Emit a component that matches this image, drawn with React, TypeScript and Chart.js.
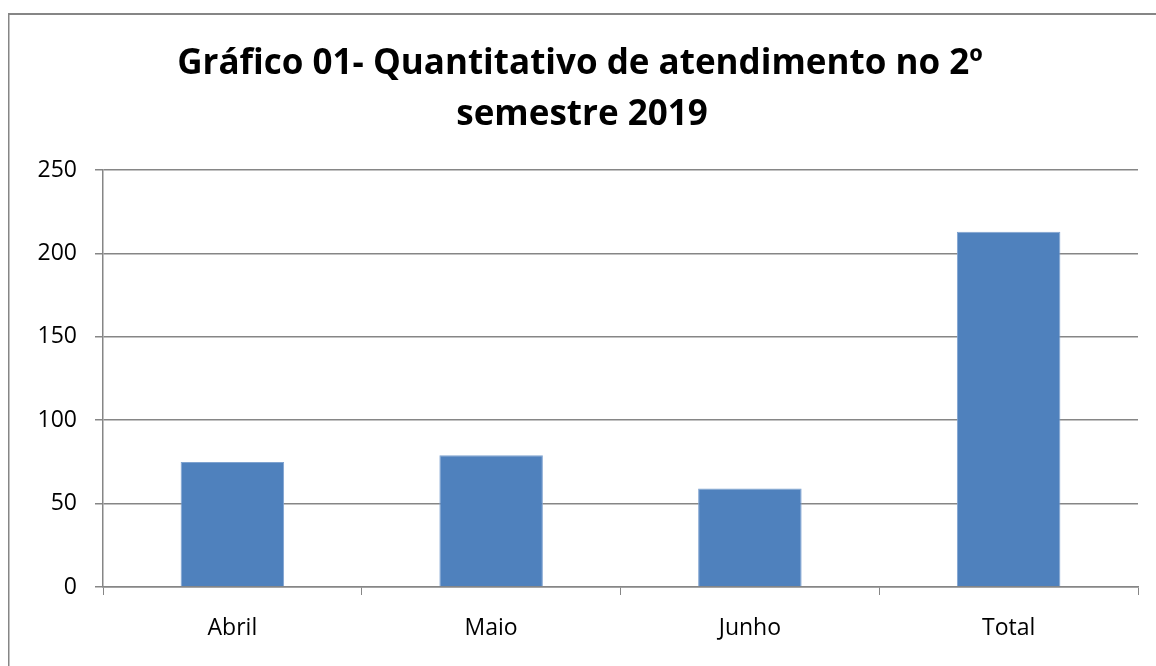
import React, { useEffect, useRef } from "react";
import { Chart, registerables } from "chart.js";

Chart.register(...registerables);

const categories = ["Abril", "Maio", "Junho", "Total"];
const values = [75, 79, 59, 213];
const titleLines = ["Gráfico 01- Quantitativo de atendimento no 2º", "semestre 2019"];
const yTicks = [0, 50, 100, 150, 200, 250];

const GRID = "#868686";
const FONT = "'Open Sans', 'Noto Sans', sans-serif";

export default function App() {
  const ref = useRef<HTMLCanvasElement | null>(null);
  useEffect(() => {
    if (!ref.current) return;
    const frame = {
      id: "frame",
      beforeDraw(chart: any) {
        const ctx = chart.ctx;
        ctx.save();
        ctx.fillStyle = "#ffffff";
        ctx.fillRect(0, 0, chart.width, chart.height);
        ctx.fillStyle = GRID;
        ctx.fillRect(8, 13, chart.width - 8, 2);
        ctx.fillRect(8, 13, 1.5, chart.height - 13);
        ctx.restore();
      },
      afterDraw(chart: any) {
        const ctx = chart.ctx;
        ctx.save();
        ctx.fillStyle = "#000";
        ctx.textAlign = "center";
        ctx.textBaseline = "alphabetic";
        ctx.font = `bold 35px ${FONT}`;
        ctx.fillText(titleLines[0], 580, 74);
        ctx.fillText(titleLines[1], 582, 125);
        ctx.restore();
      },
    };
    const chart = new Chart(ref.current, {
      type: "bar",
      data: {
        labels: categories,
        datasets: [
          {
            data: values,
            backgroundColor: "#4F81BD",
            borderColor: "#7FA3D0",
            borderWidth: { top: 1, left: 1, right: 1, bottom: 0 } as any,
            categoryPercentage: 1,
            barPercentage: 0.4,
          },
        ],
      },
      options: {
        animation: false,
        responsive: false,
        layout: { padding: { top: 170, right: 18, left: 0, bottom: 0 } },
        plugins: { legend: { display: false }, tooltip: { enabled: false }, title: { display: false } },
        scales: {
          x: {
            grid: { display: true, drawOnChartArea: false, tickLength: 8, color: GRID, offset: true },
            border: { display: true, color: GRID, width: 1.5 },
            ticks: { font: { family: FONT, size: 23 }, color: "#000", padding: 20 },
            afterFit: (s: any) => {
              s.height = 79;
            },
          },
          y: {
            min: 0,
            max: 250,
            afterBuildTicks: (s: any) => {
              s.ticks = yTicks.map((v) => ({ value: v }));
            },
            grid: { color: GRID, tickLength: 8, lineWidth: 1.5 },
            border: { display: true, color: GRID, width: 1.5 },
            ticks: { font: { family: FONT, size: 23 }, color: "#000", padding: 18 },
            afterFit: (s: any) => {
              s.width = 103;
            },
          },
        },
      },
      plugins: [frame],
    });
    return () => chart.destroy();
  }, []);
  return (
    <div style={{ position: "absolute", left: 0, top: 0, width: 1156, height: 666 }}>
      <canvas ref={ref} width={1156} height={666} style={{ display: "block" }} />
    </div>
  );
}
